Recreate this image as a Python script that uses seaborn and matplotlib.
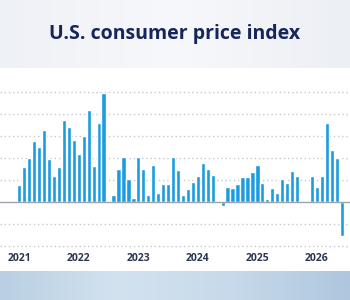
import numpy as np
import pandas as pd
import matplotlib
matplotlib.use("Agg")
import matplotlib.pyplot as plt
import seaborn as sns
from matplotlib.colors import LinearSegmentedColormap

# Monthly CPI change (%), Jan 2021 .. Jun 2026 (NaN = no bar)
values = [0.19, 0.40, 0.50, 0.69, 0.62, 0.82, 0.49, 0.29, 0.40, 0.93, 0.85, 0.71,
          0.55, 0.75, 1.05, 0.41, 0.90, 1.24, -0.01, 0.08, 0.38, 0.51, 0.26, 0.05,
          0.51, 0.38, 0.08, 0.42, 0.10, 0.20, 0.20, 0.51, 0.36, 0.08, 0.15, 0.23,
          0.30, 0.44, 0.37, 0.31, np.nan, -0.05, 0.17, 0.16, 0.21, 0.28, 0.28, 0.34,
          0.42, 0.22, 0.03, 0.16, 0.10, 0.26, 0.22, 0.35, 0.29, np.nan, np.nan, 0.29,
          0.17, 0.29, 0.90, 0.59, 0.50, -0.39]
months = list(range(len(values)))
year_labels = ["2021", "2022", "2023", "2024", "2025", "2026"]
year_positions = [0, 12, 24, 36, 48, 60]
gridlines = [-0.5, -0.25, 0.25, 0.5, 0.75, 1.0, 1.25]
title = "U.S. consumer price index"

df = pd.DataFrame({"month": months, "change": values})

sns.set_style("white")
plt.rcParams['font.family'] = ['Open Sans', 'DejaVu Sans']

W, H = 350, 300
fig = plt.figure(figsize=(W / 100, H / 100), dpi=100)
fig.patch.set_facecolor("white")

grad = np.linspace(0, 1, 256).reshape(1, -1)

# top band gradient
axt = fig.add_axes([0, 1 - 68 / H, 1, 68 / H])
cm_top = LinearSegmentedColormap.from_list("t", ["#eef1f6", "#f7f8fb", "#eceff4"])
axt.imshow(grad, aspect="auto", cmap=cm_top, extent=[0, 1, 0, 1])
axt.set_axis_off()
axt.text(0.5, 0.5, title, ha="center", va="center", fontsize=14,
         fontweight="bold", color="#17265a", transform=axt.transAxes)

# bottom band gradient
axb = fig.add_axes([0, 0, 1, 29 / H])
cm_bot = LinearSegmentedColormap.from_list("b", ["#b9cfe3", "#d3e2ef", "#c7d9ea", "#aec7de"])
axb.imshow(grad, aspect="auto", cmap=cm_bot, extent=[0, 1, 0, 1])
axb.set_axis_off()

# main axes
top_px, bot_px = 70, 248
ax = fig.add_axes([0, 1 - bot_px / H, 1, (bot_px - top_px) / H])
ax.set_facecolor("white")
sns.barplot(data=df, x="month", y="change", color="#1b9ce0", saturation=1,
            width=0.86, ax=ax, zorder=3)
pitch = 4.96
x0 = 19.3
ax.set_xlim(-x0 / pitch, (W - x0) / pitch)
ax.set_ylim((202 - bot_px) / 88, (202 - top_px) / 88)
for g in gridlines:
    ax.axhline(g, color="#c5c8cf", lw=1.0, ls=(0, (1, 2)), zorder=1)
ax.axhline(0, color="#9ea3ad", lw=1.0, zorder=4)
for s in ax.spines.values():
    s.set_visible(False)
ax.set_yticks([])
ax.set_xticks(year_positions)
ax.set_xticklabels(year_labels, fontsize=7.5, fontweight="bold", color="#2a3552")
ax.tick_params(axis="x", length=0, pad=3.5)
ax.set_xlabel("")
ax.set_ylabel("")

fig.savefig("out.png", dpi=100, facecolor=fig.get_facecolor())
